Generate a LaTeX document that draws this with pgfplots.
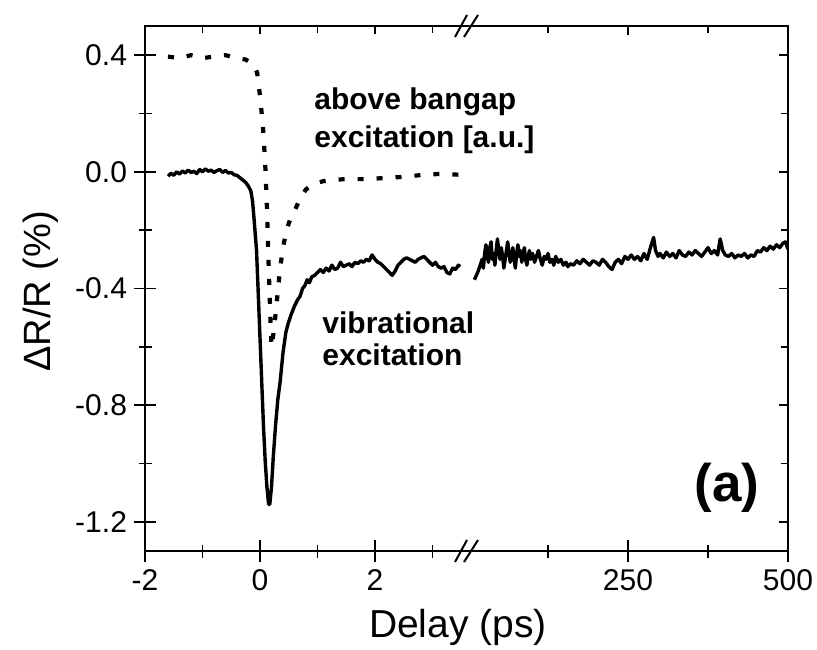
\documentclass[border=0pt]{standalone}
\usepackage{pgfplots}
\pgfplotsset{compat=1.18}
\usepackage{fontspec}
\setmainfont{Liberation Sans}

\pgfplotstableread{
x y
-1.60 -0.015
-1.55 -0.005
-1.50 -0.012
-1.45 0.000
-1.40 -0.008
-1.35 0.003
-1.30 -0.004
-1.25 0.006
-1.20 -0.002
-1.15 0.002
-1.10 -0.006
-1.05 0.008
-1.00 0.000
-0.95 0.010
-0.90 0.002
-0.85 0.006
-0.80 -0.002
-0.75 0.004
-0.70 0.008
-0.65 -0.002
-0.60 0.005
-0.55 -0.004
-0.50 -0.002
-0.45 -0.010
-0.40 -0.012
-0.35 -0.020
-0.30 -0.028
-0.25 -0.036
-0.20 -0.050
-0.16 -0.065
-0.13 -0.10
-0.10 -0.17
-0.08 -0.22
-0.06 -0.27
-0.03 -0.42
0.00 -0.57
0.03 -0.72
0.06 -0.87
0.09 -0.99
0.12 -1.08
0.15 -1.14
0.17 -1.14
0.20 -1.08
0.23 -0.98
0.27 -0.87
0.31 -0.78
0.35 -0.72
0.40 -0.62
0.45 -0.55
0.49 -0.52
0.54 -0.49
0.60 -0.46
0.65 -0.44
0.70 -0.425
0.74 -0.40
0.78 -0.39
0.82 -0.37
0.86 -0.38
0.90 -0.36
0.95 -0.355
1.00 -0.345
1.05 -0.335
1.10 -0.345
1.15 -0.33
1.20 -0.34
1.25 -0.32
1.30 -0.335
1.35 -0.33
1.40 -0.31
1.45 -0.325
1.50 -0.32
1.55 -0.315
1.60 -0.325
1.65 -0.31
1.70 -0.315
1.75 -0.305
1.80 -0.31
1.85 -0.30
1.90 -0.305
1.95 -0.285
2.00 -0.30
2.05 -0.31
2.10 -0.315
2.15 -0.325
2.20 -0.335
2.25 -0.345
2.30 -0.355
2.35 -0.34
2.40 -0.32
2.45 -0.31
2.50 -0.30
2.55 -0.295
2.60 -0.30
2.65 -0.305
2.70 -0.31
2.75 -0.30
2.80 -0.295
2.85 -0.29
2.90 -0.30
2.95 -0.31
3.00 -0.32
3.05 -0.31
3.10 -0.325
3.15 -0.33
3.20 -0.325
3.25 -0.345
3.30 -0.35
3.35 -0.33
3.40 -0.335
3.45 -0.32
3.48 -0.325
}\vibleft

\pgfplotstableread{
x y
-1.60 0.395
-1.40 0.39
-1.20 0.40
-1.00 0.39
-0.80 0.395
-0.60 0.40
-0.40 0.39
-0.25 0.385
-0.12 0.37
-0.05 0.34
0.00 0.26
0.05 0.16
0.09 0.03
0.12 -0.12
0.15 -0.32
0.18 -0.50
0.20 -0.60
0.23 -0.56
0.27 -0.49
0.31 -0.41
0.35 -0.33
0.40 -0.26
0.46 -0.20
0.53 -0.16
0.61 -0.13
0.70 -0.09
0.80 -0.06
0.95 -0.04
1.10 -0.032
1.30 -0.027
1.50 -0.025
1.80 -0.025
2.10 -0.022
2.50 -0.017
2.85 -0.010
3.15 -0.007
3.48 -0.010
}\bandgap

\pgfplotstableread{
x y
10 -0.37
13 -0.355
16 -0.34
19 -0.32
22 -0.30
24 -0.33
26 -0.28
28 -0.25
30 -0.29
32 -0.31
34 -0.26
36 -0.24
38 -0.30
40 -0.28
42 -0.32
44 -0.27
46 -0.23
48 -0.27
50 -0.30
52 -0.26
54 -0.29
56 -0.33
58 -0.30
60 -0.27
62 -0.24
64 -0.28
66 -0.31
68 -0.29
70 -0.26
72 -0.30
74 -0.33
76 -0.28
78 -0.25
80 -0.29
82 -0.27
84 -0.31
86 -0.28
88 -0.26
90 -0.30
92 -0.32
94 -0.29
96 -0.27
98 -0.30
101 -0.28
104 -0.31
107 -0.29
110 -0.27
113 -0.30
116 -0.32
119 -0.29
122 -0.30
125 -0.28
128 -0.31
131 -0.30
134 -0.32
137 -0.29
141 -0.31
145 -0.30
149 -0.32
153 -0.31
156 -0.325
160 -0.315
165 -0.32
170 -0.305
175 -0.315
180 -0.30
185 -0.31
190 -0.32
195 -0.305
200 -0.31
205 -0.32
210 -0.30
215 -0.31
220 -0.325
225 -0.335
230 -0.31
235 -0.30
240 -0.315
245 -0.29
250 -0.30
255 -0.285
260 -0.30
265 -0.29
270 -0.305
275 -0.28
280 -0.30
285 -0.26
290 -0.225
293 -0.27
297 -0.29
300 -0.28
305 -0.295
310 -0.275
315 -0.29
320 -0.28
325 -0.295
330 -0.27
335 -0.285
340 -0.29
345 -0.275
350 -0.285
355 -0.27
360 -0.28
365 -0.29
370 -0.275
375 -0.26
380 -0.28
385 -0.27
390 -0.285
394 -0.23
398 -0.27
402 -0.285
407 -0.29
412 -0.28
417 -0.295
422 -0.285
427 -0.29
432 -0.28
437 -0.295
442 -0.285
447 -0.29
452 -0.27
457 -0.275
462 -0.26
467 -0.27
472 -0.255
477 -0.265
482 -0.25
487 -0.26
492 -0.245
496 -0.24
500 -0.265
}\vibright

\begin{document}
\begin{tikzpicture}
\useasboundingbox (0pt,0pt) rectangle (408.5pt,-324.5pt);
\pgfplotsset{
  every axis/.append style={
    scale only axis, height=262.5pt, ymin=-1.3, ymax=0.5,
    anchor=south west,
    axis line style={draw=none},
    /pgf/number format/assume math mode=true,
    tick style={line width=0.9pt, black},
    ticklabel style={font=\fontsize{15}{18}\selectfont},
    ytick={-1.2,-0.8,-0.4,0,0.4},
    minor ytick={-1,-0.6,-0.2,0.2},
  },
}
% left main axis
\begin{axis}[at={(72.5pt,-275.5pt)}, width=160pt, xmin=-2, xmax=3.565,
  xtick={-2,0,2}, minor xtick={-1,1,3}, xtick pos=left, ytick pos=left,
  tick align=center, major tick length=11pt, minor tick length=6.5pt,
  yticklabel style={/pgf/number format/fixed, /pgf/number format/fixed zerofill, /pgf/number format/precision=1},
]
\addplot[black, line width=1.7pt, line join=round, no markers] table {\vibleft};
\addplot[black, line width=2.1pt, dash pattern=on 3pt off 6.5pt, no markers] table {\bandgap};
\end{axis}
% left top ticks
\begin{axis}[at={(72.5pt,-275.5pt)}, width=160pt, xmin=-2, xmax=3.565,
  xtick={-2,0,2}, minor xtick={-1,1,3}, xtick pos=right, ytick=\empty,
  tick align=inside, major tick length=3.8pt, minor tick length=3.5pt,
  xticklabels={},
]
\end{axis}
% right main axis
\begin{axis}[at={(232.5pt,-275.5pt)}, width=161.5pt, xmin=-4.7, xmax=500,
  xtick={250,500}, minor xtick={125,375}, xtick pos=left, ytick=\empty,
  tick align=center, major tick length=11pt, minor tick length=6.5pt,
]
\addplot[black, line width=1.7pt, line join=round, no markers] table {\vibright};
\end{axis}
% right overlay: top and right ticks
\begin{axis}[at={(232.5pt,-275.5pt)}, width=161.5pt, xmin=-4.7, xmax=500,
  xtick={250,500}, minor xtick={125,375}, xtick pos=right, ytick pos=right,
  tick align=inside, major tick length=4.5pt, minor tick length=3.5pt,
  xticklabels={}, yticklabels={},
]
\end{axis}
% frame
\draw[line width=1.2pt] (72.5pt,-13pt) rectangle (394pt,-275.5pt);
% break marks
\foreach \yy in {-13pt,-275.5pt}{
  \draw[line width=1pt] (227.5pt,\yy-5.5pt) -- (233.5pt,\yy+5.5pt);
  \draw[line width=1pt] (232pt,\yy-5.5pt) -- (239pt,\yy+5.5pt);
}
% labels
\node[anchor=base, inner sep=0pt, font=\fontsize{19.5}{22}\selectfont] at (229pt,-318.5pt) {Delay (ps)};
\node[anchor=base, rotate=90, inner sep=0pt, font=\fontsize{19}{22}\selectfont] at (25pt,-145.75pt) {ΔR/R (\%)};
% annotations
\begin{scope}[every node/.style={anchor=base west, inner sep=0pt, font=\bfseries\fontsize{15}{18}\selectfont}]
\node at (157pt,-54.5pt) {above bangap};
\node at (157pt,-73.5pt) {excitation [a.u.]};
\node at (161pt,-166.5pt) {vibrational};
\node at (161pt,-182.5pt) {excitation};
\end{scope}
\node[inner sep=0pt, font=\bfseries\fontsize{26.5}{30}\selectfont] at (363.5pt,-244pt) {(a)};
\end{tikzpicture}
\end{document}
